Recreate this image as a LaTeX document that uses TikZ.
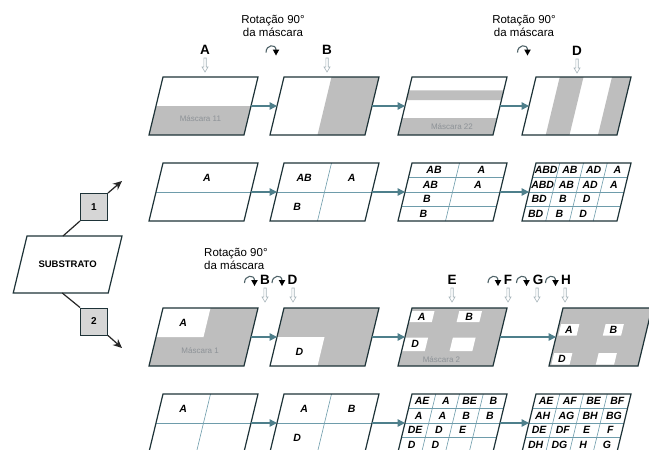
\documentclass[tikz,border=0pt]{standalone}
\usepackage{fontspec}
\setmainfont{Liberation Sans}
\usetikzlibrary{arrows.meta}
\definecolor{framec}{HTML}{1E3338}
\definecolor{gridc}{HTML}{6E9CAB}
\definecolor{flowc}{HTML}{4E7F8B}
\definecolor{maskc}{HTML}{BEBEBE}
\definecolor{mtextc}{HTML}{8D9297}
\definecolor{boxc}{HTML}{D6D6D6}
\definecolor{dnarr}{HTML}{A7B4BA}
\definecolor{rotc}{HTML}{4F6368}
\newcommand\pnw{95}
\newcommand\pnh{58}
\newcommand\pbase{\fill[white] (0,0) rectangle (\pnw,\pnh);}
\newcommand\pframe{\draw[frame] (0,0) rectangle (\pnw,\pnh);}
\newcommand\pcoords[1]{\coordinate (#1w) at (0,{\pnh/2}); \coordinate (#1e) at (\pnw,{\pnh/2});}
\newcommand\pgrid[2]{%
  \pgfmathtruncatemacro\pgC{#1-1}\pgfmathtruncatemacro\pgR{#2-1}%
  \ifnum\pgC>0 \foreach \i in {1,...,\pgC} {\draw[gridl] ({\i*\pnw/#1},0) -- ({\i*\pnw/#1},\pnh);}\fi
  \ifnum\pgR>0 \foreach \i in {1,...,\pgR} {\draw[gridl] (0,{\i*\pnh/#2}) -- (\pnw,{\i*\pnh/#2});}\fi}
\newcommand\pcells[4]{%
  \foreach \txt [count=\k from 0] in {#4} {%
    \pgfmathtruncatemacro\cc{mod(\k,#2)}%
    \pgfmathtruncatemacro\rr{div(\k,#2)}%
    \edef\pcA{\txt}\def\pcB{-}%
    \ifx\pcA\pcB\else
      \node[cell] (#1-\k) at ({(\cc+0.5)*\pnw/#2},{(\rr+0.5)*\pnh/#3}) {\txt};
    \fi}}
\newcommand\wbox[5]{%
  \fill[white] ({#1*\pnw/4+#3},{#2*\pnh/4+#4}) rectangle ({(#1+1)*\pnw/4-#3},{(#2+1)*\pnh/4-#5});}
\tikzset{
  frame/.style={draw=framec, line width=1.2pt, line join=miter},
  gridl/.style={draw=gridc, line width=0.6pt},
  flow/.style={draw=flowc, line width=1.5pt, -{Triangle[length=7.5pt,width=7.5pt]}},
  conn/.style={draw=black!85, line width=1.2pt},
  lbl/.style={font=\bfseries\fontsize{13.5}{14}\selectfont, inner sep=0},
  cell/.style={font=\bfseries\itshape\fontsize{10.5}{11}\selectfont, inner sep=0},
  mtext/.style={text=mtextc, font=\fontsize{8}{9}\selectfont, inner sep=0},
  rottext/.style={font=\fontsize{11.5}{12.5}\selectfont, align=center, inner sep=0},
  numbox/.style={draw=framec, fill=boxc, line width=1pt, minimum size=27pt, inner sep=0, font=\bfseries\fontsize{10}{10}\selectfont},
  panel/.style 2 args={shift={(#1,#2)}, xslant=0.2414},
  pics/rotico/.style={code={
    \draw[rotc, line width=1.1pt] (-5.5,3.5) .. controls (-5.5,-4.5) and (4.5,-5.5) .. (4.5,1);
    \fill[black] (1.2,0.5) -- (7.8,0.5) -- (4.5,6.5) -- cycle;}},
  pics/dnarrow/.style={code={
    \draw[dnarr, line width=0.6pt, fill=white] (-1.2,0) -- (1.2,0) -- (1.2,9) -- (3,9) -- (0,14) -- (-3,9) -- (-1.2,9) -- cycle;}},
}
\begin{document}
\begin{tikzpicture}[x=1pt, y=-1pt]
\path[use as bounding box, fill=white] (0,0) rectangle (649,450);

% ---------- row 1 ----------
\begin{scope}[panel={163}{77}]
  \pbase \fill[maskc] (0,29) rectangle (\pnw,\pnh);
  \node[mtext] (m11) at (47.5,42) {Máscara 11};
  \pframe \pcoords{p11}
\end{scope}
\begin{scope}[panel={284}{77}]
  \pbase \fill[maskc] (47.5,0) rectangle (\pnw,\pnh);
  \pframe \pcoords{p12}
\end{scope}
\begin{scope}[panel={412}{77}]
  \pbase \fill[maskc] (0,13.3) rectangle (\pnw,23.2); \fill[maskc] (0,41.2) rectangle (\pnw,\pnh);
  \node[mtext] (m22) at (52,50) {Máscara 22};
  \pframe \pcoords{p13}
\end{scope}
\begin{scope}[panel={536}{77}]
  \pbase \fill[maskc] (23.75,0) rectangle (47.5,\pnh); \fill[maskc] (76,0) rectangle (\pnw,\pnh);
  \pframe \pcoords{p14}
\end{scope}
\draw[flow] (p11e) -- (p12w);
\draw[flow] (p12e) -- (p13w);
\draw[flow] (p13e) -- (p14w);

\node[rottext] (rot1) at (273,26) {Rotação 90°\\da máscara};
\node[rottext] (rot2) at (524,26) {Rotação 90°\\da máscara};
\pic at (271.5,49) {rotico};
\pic at (523,49) {rotico};
\node[lbl] (lA) at (205,50) {A};
\node[lbl] (lB) at (327,50) {B};
\node[lbl] (lD) at (577,51) {D};
\pic at (205,58) {dnarrow};
\pic at (327,58) {dnarrow};
\pic at (577,59) {dnarrow};

% ---------- row 2 ----------
\begin{scope}[panel={163}{163}]
  \pbase \pgrid{1}{2} \pframe \pcoords{p21}
  \pcells{c21}{1}{2}{A,-}
\end{scope}
\begin{scope}[panel={284}{163}]
  \pbase \pgrid{2}{2} \pframe \pcoords{p22}
  \pcells{c22}{2}{2}{AB,A,B,-}
\end{scope}
\begin{scope}[panel={412}{163}]
  \pbase \pgrid{2}{4} \pframe \pcoords{p23}
  \pcells{c23}{2}{4}{AB,A,AB,A,B,-,B,-}
\end{scope}
\begin{scope}[panel={536}{163}]
  \pbase \pgrid{4}{4} \pframe \pcoords{p24}
  \pcells{c24}{4}{4}{ABD,AB,AD,A,ABD,AB,AD,A,BD,B,D,-,BD,B,D,-}
\end{scope}
\draw[flow] (p21e) -- (p22w);
\draw[flow] (p22e) -- (p23w);
\draw[flow] (p23e) -- (p24w);

% ---------- substrate ----------
\begin{scope}[panel={27}{236}]
  \draw[frame, fill=white] (0,0) rectangle (95,57);
  \node[font=\bfseries\fontsize{9.5}{10}\selectfont, inner sep=0] (sub) at (47.5,28.5) {SUBSTRATO};
  \coordinate (subtop) at (36,0);
  \coordinate (subbot) at (49,57);
\end{scope}
\node[numbox] (b1) at (94,207) {1};
\node[numbox] (b2) at (94,321.5) {2};
\coordinate (e1) at (122,181);
\coordinate (e2) at (122,348);
\draw[conn] (subtop) -- (b1.south west);
\draw[conn, -{Stealth[length=9pt,width=8pt]}] (b1.north east) -- (e1);
\draw[conn] (subbot) -- (b2.north west);
\draw[conn, -{Stealth[length=9pt,width=8pt]}] (b2.south east) -- (e2);

% ---------- row 3 ----------
\begin{scope}[panel={163}{308}]
  \fill[maskc] (0,0) rectangle (\pnw,\pnh);
  \fill[white] (0,0) rectangle (47.5,29);
  \node[mtext] (m1) at (47.5,43) {Máscara 1};
  \pframe \pcoords{p31}
  \node[cell] (t31) at (23.75,14.5) {A};
\end{scope}
\begin{scope}[panel={284}{308}]
  \fill[maskc] (0,0) rectangle (\pnw,\pnh);
  \fill[white] (0,29) rectangle (47.5,\pnh);
  \pframe \pcoords{p32}
  \node[cell] (t32) at (26,43.5) {D};
\end{scope}
\begin{scope}[panel={412}{308}]
  \fill[maskc] (0,0) rectangle (\pnw,\pnh);
  \wbox{0}{0}{0.5}{3}{0.5} \wbox{2}{0}{0.5}{3}{0.5}
  \wbox{0}{2}{0.5}{0.5}{0.5} \wbox{2}{2}{0.5}{0.5}{0.5}
  \node[mtext] (m2) at (42,52) {Máscara 2};
  \pframe \pcoords{p33}
  \node[cell] (t33a) at (11.9,8.75) {A};
  \node[cell] (t33b) at (59.4,8.75) {B};
  \node[cell] (t33d) at (11.9,36.25) {D};
\end{scope}
\begin{scope}[panel={563}{308}]
  \renewcommand\pnw{89}
  \fill[maskc] (0,0) rectangle (\pnw,\pnh);
  \wbox{0}{1}{2}{1.5}{1.5} \wbox{2}{1}{2}{1.5}{1.5}
  \wbox{0}{3}{2}{1.5}{1.5} \wbox{2}{3}{2}{1.5}{1.5}
  \pframe \pcoords{p34}
  \node[cell] (t34a) at (11.1,21.75) {A};
  \node[cell] (t34b) at (55.6,21.75) {B};
  \node[cell] (t34d) at (11.1,50.75) {D};
\end{scope}
\draw[flow] (p31e) -- (p32w);
\draw[flow] (p32e) -- (p33w);
\draw[flow] (p33e) -- (p34w);

\node[rottext, align=left, anchor=west] (rot3) at (204,259) {Rotação 90°\\da máscara};
\pic at (250,279.5) {rotico};
\node[lbl] (l3B) at (265,280) {B};
\pic at (277.5,279.5) {rotico};
\node[lbl] (l3D) at (292.5,280) {D};
\node[lbl] (l3E) at (452,280) {E};
\pic at (493.5,279.5) {rotico};
\node[lbl] (l3F) at (508,280) {F};
\pic at (522,279.5) {rotico};
\node[lbl] (l3G) at (538,280) {G};
\pic at (551,279.5) {rotico};
\node[lbl] (l3H) at (566,280) {H};
\pic at (265,288) {dnarrow};
\pic at (293,288) {dnarrow};
\pic at (452,288) {dnarrow};
\pic at (508,288) {dnarrow};
\pic at (537,288) {dnarrow};
\pic at (565,288) {dnarrow};

% ---------- row 4 ----------
\begin{scope}[panel={163}{394}]
  \pbase \pgrid{2}{2} \pframe \pcoords{p41}
  \pcells{c41}{2}{2}{A,-,-,-}
\end{scope}
\begin{scope}[panel={284}{394}]
  \pbase \pgrid{2}{2} \pframe \pcoords{p42}
  \pcells{c42}{2}{2}{A,B,D,-}
\end{scope}
\begin{scope}[panel={412}{394}]
  \pbase \pgrid{4}{4} \pframe \pcoords{p43}
  \pcells{c43}{4}{4}{AE,A,BE,B,A,A,B,B,DE,D,E,-,D,D,-,-}
\end{scope}
\begin{scope}[panel={536}{394}]
  \pbase \pgrid{4}{4} \pframe \pcoords{p44}
  \pcells{c44}{4}{4}{AE,AF,BE,BF,AH,AG,BH,BG,DE,DF,E,F,DH,DG,H,G}
\end{scope}
\draw[flow] (p41e) -- (p42w);
\draw[flow] (p42e) -- (p43w);
\draw[flow] (p43e) -- (p44w);
\end{tikzpicture}
\end{document}
